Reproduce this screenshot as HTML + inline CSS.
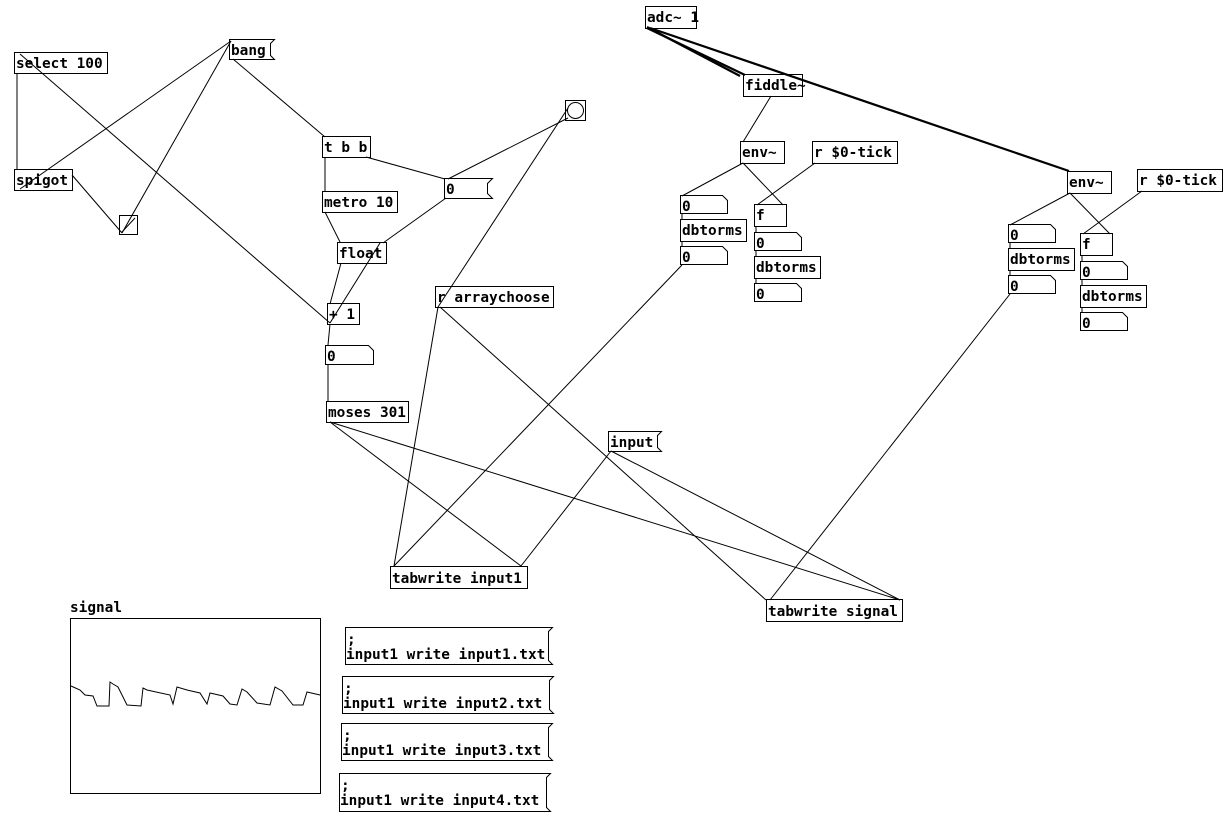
<!DOCTYPE html>
<html><head><meta charset="utf-8"><style>
html,body{margin:0;padding:0;background:#fff;}
svg{display:block}
text{font-family:"DejaVu Sans Mono","Liberation Mono",monospace;font-weight:bold;font-size:14.4px;fill:#000}
</style></head><body>
<svg width="1231" height="819" viewBox="0 0 1231 819" xmlns="http://www.w3.org/2000/svg">
<g stroke="#000" stroke-width="1" fill="none">
<line x1="17" y1="73" x2="17" y2="169"/>
<line x1="330" y1="323" x2="20" y2="54"/>
<line x1="231" y1="41" x2="20" y2="189"/>
<line x1="231" y1="41" x2="122" y2="233"/>
<line x1="72" y1="175" x2="122" y2="233"/>
<line x1="233" y1="59" x2="325" y2="137"/>
<line x1="325" y1="157" x2="325" y2="191"/>
<line x1="366" y1="157" x2="445" y2="179"/>
<line x1="568" y1="118" x2="448" y2="179"/>
<line x1="325" y1="212" x2="340" y2="242"/>
<line x1="446" y1="198" x2="383" y2="243"/>
<line x1="341" y1="263" x2="330" y2="304"/>
<line x1="330" y1="323" x2="380" y2="243"/>
<line x1="330" y1="324" x2="328" y2="345"/>
<line x1="328" y1="364" x2="328" y2="401"/>
<line x1="330" y1="422" x2="521" y2="566"/>
<line x1="330" y1="422" x2="900" y2="600"/>
<line x1="568" y1="108" x2="438" y2="307"/>
<line x1="438" y1="307" x2="394" y2="566"/>
<line x1="440" y1="307" x2="766" y2="600"/>
<line x1="682" y1="265" x2="394" y2="566"/>
<line x1="611" y1="451" x2="521" y2="566"/>
<line x1="611" y1="451" x2="900" y2="600"/>
<line x1="1010" y1="294" x2="770" y2="600"/>
<line x1="771" y1="96" x2="743" y2="142"/>
<line x1="743" y1="163" x2="682" y2="196"/>
<line x1="743" y1="163" x2="783" y2="205"/>
<line x1="815" y1="163" x2="757" y2="205"/>
<line x1="682" y1="213" x2="682" y2="219"/>
<line x1="682" y1="241" x2="682" y2="246"/>
<line x1="756" y1="226" x2="756" y2="232"/>
<line x1="756" y1="250" x2="756" y2="256"/>
<line x1="756" y1="278" x2="756" y2="283"/>
<line x1="1070" y1="193" x2="1010" y2="225"/>
<line x1="1070" y1="193" x2="1110" y2="234"/>
<line x1="1142" y1="191" x2="1083" y2="234"/>
<line x1="1010" y1="242" x2="1010" y2="248"/>
<line x1="1010" y1="270" x2="1010" y2="275"/>
<line x1="1082" y1="255" x2="1082" y2="261"/>
<line x1="1082" y1="279" x2="1082" y2="285"/>
<line x1="1082" y1="307" x2="1082" y2="312"/>
<g stroke-width="2.2">
<line x1="647" y1="28" x2="745" y2="75"/>
<line x1="650" y1="28" x2="1069" y2="171"/>
<line x1="647" y1="27" x2="740" y2="76"/>
</g>
<rect x="14.5" y="52.5" width="93" height="21"/>
<rect x="14.5" y="169.5" width="58" height="21"/>
<rect x="119.5" y="215.5" width="18" height="19"/>
<line x1="122" y1="232" x2="135" y2="218"/>
<rect x="322.5" y="136.5" width="48" height="21"/>
<rect x="322.5" y="191.5" width="75" height="21"/>
<rect x="337.5" y="242.5" width="49" height="21"/>
<rect x="327.5" y="303.5" width="32" height="21"/>
<rect x="326.5" y="401.5" width="82" height="21"/>
<rect x="435.5" y="286.5" width="118" height="21"/>
<rect x="390.5" y="566.5" width="137" height="22"/>
<rect x="766.5" y="599.5" width="136" height="22"/>
<rect x="645.5" y="6.5" width="51" height="22"/>
<rect x="743.5" y="74.5" width="59" height="22"/>
<rect x="740.5" y="141.5" width="44" height="22"/>
<rect x="812.5" y="141.5" width="85" height="22"/>
<rect x="680.5" y="219.5" width="66" height="22"/>
<rect x="754.5" y="204.5" width="32" height="22"/>
<rect x="754.5" y="256.5" width="66" height="22"/>
<rect x="1067.5" y="171.5" width="44" height="22"/>
<rect x="1137.5" y="169.5" width="85" height="22"/>
<rect x="1008.5" y="248.5" width="66" height="22"/>
<rect x="1080.5" y="233.5" width="32" height="22"/>
<rect x="1080.5" y="285.5" width="66" height="22"/>
<rect x="565.5" y="100.5" width="20" height="20"/>
<circle cx="575.5" cy="110.5" r="8"/>
<path d="M229.5 39.5 H274.5 L270.5 43.5 V55.5 L274.5 59.5 H229.5 Z"/>
<path d="M608.5 431.5 H661.5 L657.5 435.5 V447.5 L661.5 451.5 H608.5 Z"/>
<path d="M444.5 178.5 H492.5 L487.5 183.5 V193.5 L492.5 198.5 H444.5 Z"/>
<path d="M345.5 627.5 H552.5 L548.5 631.5 V660.5 L552.5 664.5 H345.5 Z"/>
<path d="M342.5 676.5 H553.5 L549.5 680.5 V709.5 L553.5 713.5 H342.5 Z"/>
<path d="M341.5 723.5 H552.5 L548.5 727.5 V756.5 L552.5 760.5 H341.5 Z"/>
<path d="M339.5 773.5 H550.5 L546.5 777.5 V807.5 L550.5 811.5 H339.5 Z"/>
<path d="M325.5 345.5 H368.5 L373.5 350.5 V364.5 H325.5 Z"/>
<path d="M680.5 195.5 H722.5 L727.5 200.5 V213.5 H680.5 Z"/>
<path d="M680.5 246.5 H722.5 L727.5 251.5 V264.5 H680.5 Z"/>
<path d="M754.5 232.5 H796.5 L801.5 237.5 V250.5 H754.5 Z"/>
<path d="M754.5 283.5 H796.5 L801.5 288.5 V301.5 H754.5 Z"/>
<path d="M1008.5 224.5 H1050.5 L1055.5 229.5 V242.5 H1008.5 Z"/>
<path d="M1008.5 275.5 H1050.5 L1055.5 280.5 V293.5 H1008.5 Z"/>
<path d="M1080.5 261.5 H1122.5 L1127.5 266.5 V279.5 H1080.5 Z"/>
<path d="M1080.5 312.5 H1122.5 L1127.5 317.5 V330.5 H1080.5 Z"/>
<rect x="70.5" y="618.5" width="250" height="175"/>
<polyline points="71,686 80,690 85,695 93,696 97,706 109,706 110,682 113,684 118,687 127,705 141,706 143,688 147,690 170,695 173,704 177,687 187,690 200,693 207,704 210,693 223,696 230,704 237,705 242,689 247,692 257,703 270,705 275,687 282,691 293,705 303,705 307,692 320,695"/>
</g>
<text x="16" y="68">select 100</text>
<text x="16" y="185">spigot</text>
<text x="231" y="55">bang</text>
<text x="324" y="152">t b b</text>
<text x="324" y="207">metro 10</text>
<text x="339" y="258">float</text>
<text x="446" y="194">0</text>
<text x="329" y="319">+ 1</text>
<text x="327" y="361">0</text>
<text x="328" y="417">moses 301</text>
<text x="437" y="302">r arraychoose</text>
<text x="610" y="447">input</text>
<text x="392" y="583">tabwrite input1</text>
<text x="768" y="616">tabwrite signal</text>
<text x="647" y="22">adc~ 1</text>
<text x="745" y="90">fiddle~</text>
<text x="742" y="157">env~</text>
<text x="814" y="157">r $0-tick</text>
<text x="682" y="211">0</text>
<text x="682" y="235">dbtorms</text>
<text x="682" y="262">0</text>
<text x="756" y="220">f</text>
<text x="756" y="248">0</text>
<text x="756" y="272">dbtorms</text>
<text x="756" y="299">0</text>
<text x="1069" y="187">env~</text>
<text x="1139" y="185">r $0-tick</text>
<text x="1010" y="240">0</text>
<text x="1010" y="264">dbtorms</text>
<text x="1010" y="291">0</text>
<text x="1082" y="249">f</text>
<text x="1082" y="277">0</text>
<text x="1082" y="301">dbtorms</text>
<text x="1082" y="328">0</text>
<text x="70" y="612">signal</text>
<text x="347" y="644">;</text><text x="346" y="659">input1 write input1.txt</text>
<text x="344" y="693">;</text><text x="343" y="708">input1 write input2.txt</text>
<text x="343" y="740">;</text><text x="342" y="755">input1 write input3.txt</text>
<text x="341" y="790">;</text><text x="340" y="805">input1 write input4.txt</text>
</svg>
</body></html>
